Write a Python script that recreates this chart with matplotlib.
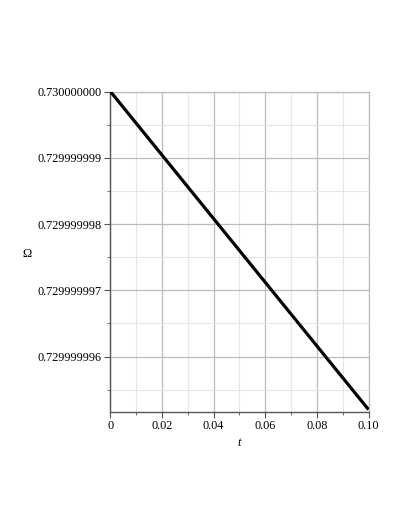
import matplotlib
matplotlib.use("Agg")
import matplotlib.pyplot as plt
from matplotlib.ticker import MultipleLocator, FixedLocator

# data
t = [0.0, 0.1]
omega = [0.730000000, 0.7299999952]
yticks = [0.730000000, 0.729999999, 0.729999998, 0.729999997, 0.729999996]
yminor = [0.7299999995, 0.7299999985, 0.7299999975, 0.7299999965, 0.7299999955]

plt.rcParams['font.family'] = ['Liberation Serif', 'DejaVu Serif']

fig = plt.figure(figsize=(4.09, 5.29), dpi=100)
ax = fig.add_axes([0.270, 0.222, 0.631, 0.605])

ax.plot(t, omega, color='black', lw=2.3, solid_capstyle='butt', zorder=3)

ax.set_xlim(0, 0.1)
ax.set_ylim(0.72999999517, 0.730000000)

ax.xaxis.set_major_locator(MultipleLocator(0.02))
ax.xaxis.set_minor_locator(MultipleLocator(0.01))
ax.yaxis.set_major_locator(FixedLocator(yticks))
ax.yaxis.set_minor_locator(FixedLocator(yminor))
ax.xaxis.set_major_formatter(lambda v, p: '0' if abs(v) < 1e-12 else '%.2f' % v)
ax.yaxis.set_major_formatter(lambda v, p: '%.9f' % v)

ax.grid(which='major', color='#bbbbbb', lw=0.9)
ax.grid(which='minor', color='#e6e6e6', lw=0.8)
ax.set_axisbelow(True)

for s in ['top', 'right']:
    ax.spines[s].set_color('#bbbbbb')
    ax.spines[s].set_linewidth(0.9)
for s in ['left', 'bottom']:
    ax.spines[s].set_color('#555555')
    ax.spines[s].set_linewidth(1.0)

ax.tick_params(which='both', direction='out', color='#555555', labelsize=8.8, pad=2)
ax.tick_params(which='major', length=4)
ax.tick_params(which='minor', length=2.5)

ax.set_xlabel('t', fontsize=9, fontstyle='italic', labelpad=4)
ax.set_ylabel('Ω', fontsize=9, rotation=0, labelpad=0)
ax.yaxis.set_label_coords(-0.325, 0.475)

fig.savefig('out.png', dpi=100)
